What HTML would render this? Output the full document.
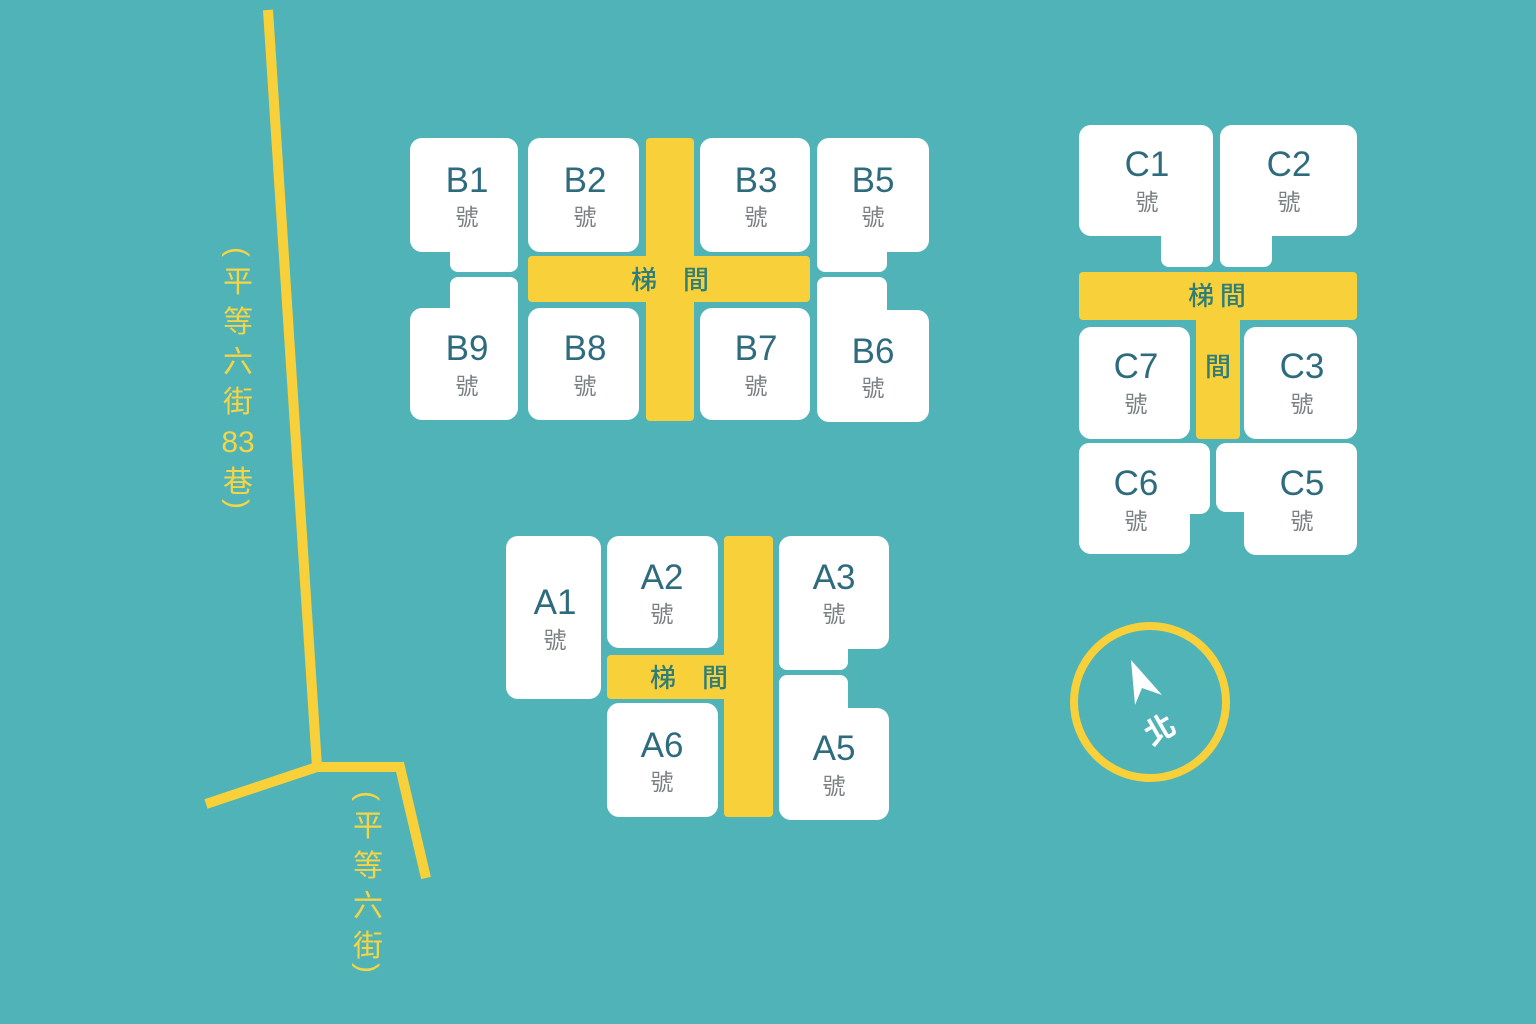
<!DOCTYPE html>
<html><head><meta charset="utf-8"><style>
html,body{margin:0;padding:0;background:#4fb3b8;}
svg{display:block}
.l{font-family:"Liberation Sans","Noto Sans CJK TC",sans-serif;font-size:35px;fill:#2e6b7d;text-anchor:middle}
.h{font-family:"Noto Sans CJK TC",sans-serif;font-size:23px;fill:#7a7f82;text-anchor:middle}
.s{font-family:"Noto Sans CJK TC",sans-serif;font-size:26px;fill:#2e7d78;text-anchor:middle;font-weight:500}
</style></head><body>
<svg width="1536" height="1024" viewBox="0 0 1536 1024">
<rect width="1536" height="1024" fill="#4fb3b8"/>
<g stroke="#f8d13a" stroke-width="10" fill="none" stroke-linejoin="miter">
<polyline points="268,10 317,767 206,804"/>
<polyline points="317,767 400,767 426,878"/>
</g>
<g font-family="Liberation Sans,Noto Sans CJK TC,sans-serif" font-size="30" fill="#f5d544" text-anchor="middle">
<text x="238" y="262" transform="rotate(90 238 252)">(</text>
<text x="238" y="292">平</text><text x="238" y="332">等</text><text x="238" y="372">六</text><text x="238" y="412">街</text><text x="238" y="452">83</text><text x="238" y="492">巷</text>
<text x="238" y="514" transform="rotate(90 238 504)">)</text>
<text x="368" y="806" transform="rotate(90 368 796)">(</text>
<text x="368" y="836">平</text><text x="368" y="876">等</text><text x="368" y="916">六</text><text x="368" y="956">街</text>
<text x="368" y="978" transform="rotate(90 368 968)">)</text>
</g>
<g fill="#fff">
<rect x="410" y="138" width="108" height="114" rx="12"/><rect x="450" y="200" width="68" height="72" rx="8"/>
<rect x="528" y="138" width="111" height="114" rx="12"/>
<rect x="700" y="138" width="110" height="114" rx="12"/>
<rect x="817" y="138" width="112" height="114" rx="12"/><rect x="817" y="200" width="70" height="72" rx="8"/>
<rect x="450" y="277" width="68" height="80" rx="8"/><rect x="410" y="308" width="108" height="112" rx="12"/>
<rect x="528" y="308" width="111" height="112" rx="12"/>
<rect x="700" y="308" width="110" height="112" rx="12"/>
<rect x="817" y="277" width="70" height="80" rx="8"/><rect x="817" y="310" width="112" height="112" rx="12"/>
<rect x="1079" y="125" width="134" height="111" rx="12"/><rect x="1161" y="180" width="52" height="87" rx="8"/>
<rect x="1220" y="125" width="137" height="111" rx="12"/><rect x="1220" y="180" width="52" height="87" rx="8"/>
<rect x="1079" y="327" width="111" height="112" rx="12"/>
<rect x="1244" y="327" width="113" height="112" rx="12"/>
<rect x="1079" y="443" width="131" height="71" rx="10"/><rect x="1079" y="443" width="111" height="111" rx="12"/>
<rect x="1216" y="443" width="141" height="69" rx="10"/><rect x="1244" y="443" width="113" height="112" rx="12"/>
<rect x="506" y="536" width="95" height="163" rx="12"/>
<rect x="607" y="536" width="111" height="112" rx="12"/>
<rect x="779" y="536" width="110" height="113" rx="12"/><rect x="779" y="600" width="69" height="70" rx="8"/>
<rect x="779" y="675" width="69" height="80" rx="8"/><rect x="779" y="708" width="110" height="112" rx="12"/>
<rect x="607" y="703" width="111" height="114" rx="12"/>
</g>
<g fill="#f8d13a">
<rect x="646" y="138" width="48" height="283" rx="4"/><rect x="528" y="256" width="282" height="46" rx="4"/>
<rect x="1079" y="272" width="278" height="48" rx="4"/><rect x="1196" y="300" width="44" height="139" rx="4"/>
<rect x="724" y="536" width="49" height="281" rx="4"/><rect x="607" y="655" width="166" height="44" rx="4"/>
</g>
<g class="s"><text x="670" y="289">梯　間</text><text x="1217" y="305">梯 間</text><text x="1218" y="376">間</text><text x="689" y="687">梯　間</text></g>
<g class="l">
<text x="467" y="192">B1</text><text x="585" y="192">B2</text><text x="756" y="192">B3</text><text x="873" y="192">B5</text>
<text x="467" y="360">B9</text><text x="585" y="360">B8</text><text x="756" y="360">B7</text><text x="873" y="363">B6</text>
<text x="1147" y="176">C1</text><text x="1289" y="176">C2</text><text x="1136" y="378">C7</text><text x="1302" y="378">C3</text>
<text x="1136" y="495">C6</text><text x="1302" y="495">C5</text>
<text x="555" y="614">A1</text><text x="662" y="589">A2</text><text x="834" y="589">A3</text><text x="662" y="757">A6</text><text x="834" y="760">A5</text>
</g>
<g class="h">
<text x="467" y="225">號</text><text x="585" y="225">號</text><text x="756" y="225">號</text><text x="873" y="225">號</text>
<text x="467" y="394">號</text><text x="585" y="394">號</text><text x="756" y="394">號</text><text x="873" y="396">號</text>
<text x="1147" y="210">號</text><text x="1289" y="210">號</text><text x="1136" y="412">號</text><text x="1302" y="412">號</text>
<text x="1136" y="529">號</text><text x="1302" y="529">號</text>
<text x="555" y="648">號</text><text x="662" y="622">號</text><text x="834" y="622">號</text><text x="662" y="790">號</text><text x="834" y="794">號</text>
</g>
<circle cx="1150" cy="702" r="76" fill="none" stroke="#f8d13a" stroke-width="8"/>
<polygon points="1131,660 1162,695 1142,688 1135,705" fill="#fff"/>
<text x="1160" y="740" transform="rotate(-30 1160 730)" font-family="Noto Sans CJK TC,sans-serif" font-size="30" font-weight="bold" fill="#fff" text-anchor="middle">北</text>
</svg>
</body></html>
